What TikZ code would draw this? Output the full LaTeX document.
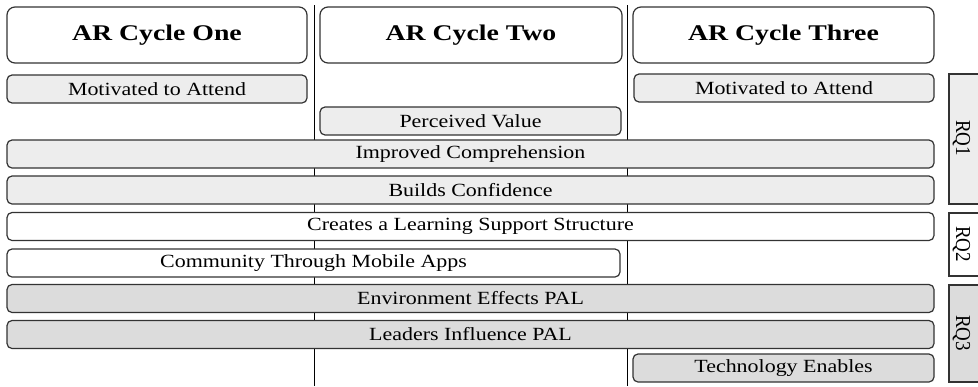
\documentclass[tikz,border=0pt]{standalone}
\usepackage{fontspec}
\setmainfont{Liberation Serif}
\newfontfamily\rowface{Liberation Serif}[FakeStretch=1.18]
\newfontfamily\headface{Liberation Serif Bold}[FakeStretch=1.24]
\newfontfamily\rqface{Liberation Serif}
\definecolor{lightfill}{HTML}{EDEDED}
\definecolor{darkfill}{HTML}{DCDCDC}
\definecolor{edge}{HTML}{333333}
\begin{document}
\begin{tikzpicture}[x=1pt,y=-1pt,
  headbox/.style={draw=edge, line width=1.2pt, rounded corners=8pt, fill=white,
    minimum width=#1, minimum height=56pt, inner sep=0pt,
    font=\headface\fontsize{22.4}{24}\selectfont},
  rowbox/.style={draw=edge, line width=1.2pt, rounded corners=5pt,
    minimum width=#1, minimum height=28pt, inner sep=0pt,
    font=\rowface\fontsize{18.6}{20}\selectfont},
  rqbox/.style={draw=edge, line width=1.2pt},
  rqlabel/.style={rotate=-90, inner sep=0pt, font=\rqface\fontsize{19}{20}\selectfont},
  divider/.style={draw=black, line width=1.3pt}]
\useasboundingbox (0,0) rectangle (978,386);

% column dividers behind the boxes
\coordinate (d1top) at (314.5,5);
\coordinate (d1bot) at (314.5,386);
\coordinate (d2top) at (627.5,5);
\coordinate (d2bot) at (627.5,386);
\draw[divider] (d1top) -- (d1bot);
\draw[divider] (d2top) -- (d2bot);

% cycle headers
\node[headbox=300pt] (h1) at (157,35) {AR Cycle One};
\node[headbox=302pt] (h2) at (471,35) {AR Cycle Two};
\node[headbox=301pt] (h3) at (783.5,35) {AR Cycle Three};

% themes
\node[rowbox=300pt, fill=lightfill] (m1) at (157,89) {Motivated to Attend};
\node[rowbox=301pt, fill=lightfill] (pv) at (470.5,121) {Perceived Value};
\node[rowbox=300pt, fill=lightfill] (m3) at (784,88) {Motivated to Attend};
\node[rowbox=927pt, fill=lightfill] (ic) at (470.5,154) {Improved Comprehension};
\node[rowbox=927pt, fill=lightfill] (bc) at (470.5,190) {Builds Confidence};
\node[rowbox=927pt, fill=white] (cl) at (470.5,226.5) {Creates a Learning Support Structure};
\node[rowbox=613pt, fill=white] (cm) at (313.5,263) {Community Through Mobile Apps};
\node[rowbox=927pt, fill=darkfill] (ee) at (470.5,298.5) {Environment Effects PAL};
\node[rowbox=927pt, fill=darkfill] (li) at (470.5,334.5) {Leaders Influence PAL};
\node[rowbox=301pt, fill=darkfill] (te) at (783.5,368) {Technology Enables};

% research question bands
\draw[rqbox, fill=lightfill] (949,74) rectangle (995,204);
\draw[rqbox, fill=white] (949,213) rectangle (995,276);
\draw[rqbox, fill=darkfill] (949,285) rectangle (995,382);
\node[rqlabel] (rq1) at (961.5,138) {\scalebox{1}[1.12]{RQ1}};
\node[rqlabel] (rq2) at (961.5,244) {\scalebox{1}[1.12]{RQ2}};
\node[rqlabel] (rq3) at (961.5,333) {\scalebox{1}[1.12]{RQ3}};
\end{tikzpicture}
\end{document}
